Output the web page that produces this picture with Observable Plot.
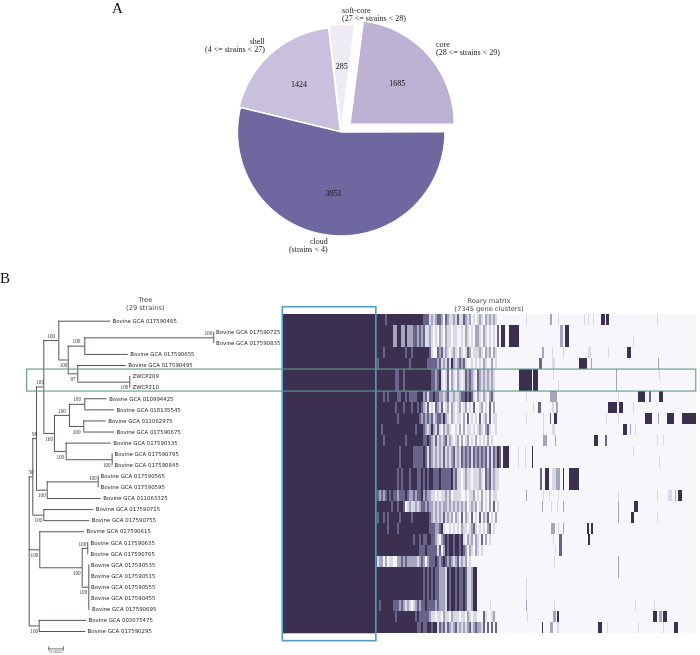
<!DOCTYPE html>
<html><head><meta charset="utf-8">
<script src="https://cdn.jsdelivr.net/npm/d3@7"></script>
<script src="https://cdn.jsdelivr.net/npm/@observablehq/plot@0.6"></script>
<style>
html,body{margin:0;padding:0;background:#fff;width:700px;height:655px;overflow:hidden}
#page{position:relative;width:700px;height:655px;filter:blur(0.35px)}
#page svg{position:absolute;left:0;top:0;background:transparent;overflow:visible}
.letter{position:absolute;font:15px/17px "Liberation Serif",serif;color:#111}
.title{position:absolute;font:6.7px/8px "DejaVu Sans",sans-serif;color:#4a4a4a;text-align:center;transform:translateX(-50%);white-space:nowrap}
</style></head><body><div id="page"></div>
<script>
// ---------- Panel A: pan-genome pie ----------
const pieNames = ["core\n(28 <= strains < 29)","soft-core\n(27 <= strains < 28)","shell\n(4 <= strains < 27)","cloud\n(strains < 4)"];
const pieValues = [1685,285,1424,3951];
const pieExplode = [0.12,0.04,0.015,0];
const pieColors = ["#bdb2d3","#efebf5","#c9c0dd","#6f68a0"];

// ---------- Panel B: tree ----------
const leafNames = ["Bovine GCA 017590465","Bovine GCA 017590725","Bovine GCA 017590835","Bovine GCA 017590655","Bovine GCA 017590495","ZWCP209","ZWCP210","Bovine GCA 010994425","Bovine GCA 018135545","Bovine GCA 011062975","Bovine GCA 017590675","Bovine GCA 017590335","Bovine GCA 017590795","Bovine GCA 017590845","Bovine GCA 017590565","Bovine GCA 017590595","Bovine GCA 011063325","Bovine GCA 017590715","Bovine GCA 017590755","Bovine GCA 017590615","Bovine GCA 017590635","Bovine GCA 017590765","Bovine GCA 017590535","Bovine GCA 017590515","Bovine GCA 017590555","Bovine GCA 017590455","Bovine GCA 017590695","Bovine GCA 003075475","Bovine GCA 017590295"];
const leafDepth = [.01106,.02514,.02514,.01347,.0132,.01378,.01378,.01061,.0116,.01048,.0116,.01116,.01133,.01133,.00943,.00943,.0098,.00879,.00824,.00752,.00807,.00807,.00814,.00814,.00814,.00814,.00827,.0078,.00766];
const leafParent = [33,36,36,35,37,38,38,41,41,42,42,43,44,44,46,46,45,47,47,48,50,50,51,51,51,51,51,52,52];
// internal nodes are numbered from 29
const nodeParent = [-1,29,30,31,32,33,34,35,34,37,32,39,40,40,39,43,31,45,30,29,48,49,49,29];
const nodeDepth = [0,.00049,.00099,.00199,.00403,.00531,.00756,.02511,.00661,.01369,.00344,.00548,.00756,.00743,.00503,.01129,.00245,.00939,.00199,.00144,.00721,.00797,.00811,.00136];
const nodeBootstrap = [null,50,99,100,100,100,100,100,97,100,100,100,100,100,100,100,100,100,100,100,100,100,100,100];
const bootAbove = [30,31,32,33,35,36,40,41,46,50];
const bootAtNode = [36,38,44,46,49,50,51];
const scaleBarLength = 0.002;

// ---------- Panel B: Roary matrix ----------
const totalClusters = 7345, coreClusters = 1685, matrixColumns = 414;
// shade per 2-column bin just right of the core block (0 = absent ... 4 = present)
const accessoryBins = [
"4444344444 4444444444 4443331212 3320321121 3113212010 1210212121 0000",
"4444444422 4422422233 2323112101 0210211011 0010210102 2102101010 3044",
"4444444422 4422422233 2323112101 0210211011 0010210102 2102101010 3044",
"4443444444 4444344344 4444443100 3231210121 0210132011 1210212021 0000",
"3444444444 4444443444 4444433333 2312131421 2323100101 0102100201 0000",
"4444444443 3443444444 4444444332 3410130210 2101323210 3212121210 0000",
"4444444443 3443444444 4444444332 3410130210 2101323210 3212121210 0000",
"4443434444 3344343333 4442313343 3221231121 1233434310 2102102310 0000",
"4444444443 4443444344 3432130103 2130120210 1201201030 0120103020 0000",
"4444444444 3444444444 4323232312 3324210210 1102030101 0301203011 0000",
"4434444444 4444444443 4443212421 3102121001 0202011010 1210231001 0000",
"4443444444 4444344444 4443343213 1212312101 2020120102 0101020100 0000",
"4444444444 4344444433 3334313212 1213121231 2132323132 3232313132 4304",
"4444444444 4344444433 3334313212 1213121231 2132323132 3232313132 4304",
"4444444444 3434443444 3343434433 3433333423 1101211011 1210323121 1000",
"4444444444 3434443444 3343434433 3433333423 1101211011 1210323121 1000",
"3232343433 2333432232 3342322110 1011212011 1100101120 1020102011 0000",
"4444444344 3443012112 1233232212 1212212121 2121201212 0120102030 1000",
"3443434444 4344444344 4444443212 1213121202 1030210301 0302130102 0000",
"4444434444 3444444444 4444443332 2341001010 1021101231 0101023010 0000",
"4444444444 4444444434 4343344332 1023434434 4341021202 1030201000 0000",
"4444444444 4444444444 4333433333 1302434434 4343202102 1010000000 0000",
"1220201100 2232322222 1232023334 3234323212 3121201000 0000000000 0000",
"4444444444 4444444444 4443434343 3222143443 4334311244 0000000000 0000",
"4444444444 4444444444 4443434343 3222143443 4334311244 0000000000 0000",
"4444444444 4444444444 4443434343 3222143443 4334311244 0000000000 0000",
"4344444433 3232121012 3233433332 3222143443 4334311244 0000000000 0000",
"4444444443 4444444443 4333332110 1102110211 1011021011 0003100120 0000",
"4444444444 4444444444 3343344344 1323132123 1212123123 2213030303 0000"
];
// isolated stripes: [row, first column, last column, shade]
const sparseStripes = [
[0,244,245,1],[0,268,270,2],[0,276,277,1],[0,302,303,1],[0,306,307,1],[0,311,312,1],[0,319,323,4],[0,324,327,4],[0,375,376,1],
[1,227,237,4],[1,278,281,2],[1,283,287,4],[2,227,237,4],[2,278,281,2],[2,283,287,4],[2,351,352,1],
[3,260,262,2],[3,270,271,1],[3,281,282,1],[3,306,309,1],[3,326,327,1],[3,345,349,4],
[4,257,260,3],[4,270,273,1],[4,297,305,4],[4,309,310,2],[4,376,377,2],
[5,237,245,4],[5,245,250,4],[5,251,256,4],[5,271,272,1],[5,334,335,2],[5,377,378,1],
[6,237,245,4],[6,245,250,4],[6,251,256,4],[6,276,277,1],[6,334,335,2],
[7,244,245,1],[7,268,275,2],[7,336,337,1],[7,356,363,4],[7,367,369,3],[7,377,381,4],
[8,251,252,1],[8,256,259,3],[8,270,272,1],[8,274,276,2],[8,326,335,4],[8,337,341,4],[8,351,352,1],
[9,244,245,1],[9,261,262,1],[9,268,269,3],[9,272,275,4],[9,324,325,1],[9,336,337,1],[9,363,370,4],[9,376,377,2],[9,385,392,4],[9,400,414,4],
[10,261,262,1],[10,270,273,1],[10,341,345,4],[10,348,349,2],[10,353,354,1],
[11,261,265,2],[11,273,274,2],[11,312,316,4],[11,323,325,3],[11,375,376,1],[11,381,382,1],
[12,222,227,4],[12,236,237,1],[12,243,244,1],[12,250,251,4],[12,351,352,1],
[13,222,227,4],[13,236,237,1],[13,243,244,1],[13,250,251,4],[13,377,378,1],
[14,258,260,3],[14,263,267,4],[14,270,274,1],[14,274,278,2],[14,281,282,4],[14,287,297,4],
[15,258,260,3],[15,263,267,4],[15,270,274,1],[15,274,278,2],[15,281,282,4],[15,287,297,4],
[16,244,245,2],[16,261,262,1],[16,267,268,1],[16,276,277,1],[16,336,337,1],[16,375,376,1],[16,386,390,1],[16,393,394,2],[16,396,400,4],
[17,260,261,2],[17,269,270,1],[17,275,276,1],[17,281,282,2],[17,336,337,2],[17,352,356,4],
[18,336,337,2],[18,349,352,4],[18,375,376,1],
[19,269,273,2],[19,276,277,1],[19,281,282,2],[19,305,307,4],[19,309,311,4],
[20,271,272,1],[20,277,280,3],[20,306,308,4],
[21,273,274,1],[21,277,280,3],
[22,272,273,1],[22,336,337,2],
[23,336,337,2],
[24,244,245,1],
[25,244,245,1],
[26,208,209,1],[26,244,245,2],[26,272,273,1],[26,353,354,1],[26,372,373,1],
[27,245,246,1],[27,271,274,2],[27,275,277,4],[27,371,375,4],[27,377,380,2],[27,381,385,4],
[28,260,261,4],[28,268,271,2],[28,275,277,1],[28,316,320,4],[28,325,326,1],[28,356,357,1],[28,381,382,1],[28,392,396,4]
];
const shadeColors = ["#f7f7fb","#d9d9e6","#a5a5bd","#68648a","#3b304f"];

// ---------- pie geometry in data units (radius = 1) ----------
const total = d3.sum(pieValues);
let cum = 0;
const slices = pieValues.map((v,i)=>{
  const a0 = cum/total*2*Math.PI; cum += v; const a1 = cum/total*2*Math.PI;
  const mid = (a0+a1)/2, e = pieExplode[i];
  const cx = e*Math.cos(mid), cy = e*Math.sin(mid);
  const pts = [{x:cx,y:cy}];
  const n = Math.ceil((a1-a0)/0.02);
  for(let k=0;k<=n;k++){const a=a0+(a1-a0)*k/n;pts.push({x:cx+Math.cos(a),y:cy+Math.sin(a)});}
  return {i,mid,cx,cy,pts};
});
const R = 103.5, pcx = 340.7, pcy = 131.7;
const pieText = slices.map(s=>({x:s.cx+0.6*Math.cos(s.mid),y:s.cy+0.6*Math.sin(s.mid),t:String(pieValues[s.i])}));
const pieLab = slices.map(s=>({x:s.cx+1.1*Math.cos(s.mid),y:s.cy+1.1*Math.sin(s.mid),t:pieNames[s.i],right:Math.cos(s.mid)<0}));
const pie = Plot.plot({width:700,height:655,margin:0,
  x:{domain:[-pcx/R,(700-pcx)/R],range:[0,700],axis:null},
  y:{domain:[(pcy-655)/R,pcy/R],range:[655,0],axis:null},
  marks:[
    ...slices.map(s=>Plot.line(s.pts,{x:"x",y:"y",fill:pieColors[s.i],stroke:"#fff",strokeWidth:1,curve:"linear-closed"})),
    Plot.text(pieText,{x:"x",y:"y",text:"t",fontFamily:"Liberation Serif",fontSize:8,fill:"#111"}),
    Plot.text(pieLab.filter(d=>!d.right),{x:"x",y:"y",text:"t",textAnchor:"start",lineHeight:1,fontFamily:"Liberation Serif",fontSize:8,fill:"#222"}),
    Plot.text(pieLab.filter(d=>d.right),{x:"x",y:"y",text:"t",textAnchor:"end",lineHeight:1,fontFamily:"Liberation Serif",fontSize:8,fill:"#222"})
  ]});

// ---------- tree layout ----------
const N = leafNames.length;
const Y = new Map(), X = new Map(), kids = new Map();
leafNames.forEach((_,i)=>{Y.set(i,i);X.set(i,leafDepth[i]);});
nodeDepth.forEach((d,i)=>{X.set(i+N,d);kids.set(i+N,[]);});
leafParent.forEach((p,i)=>kids.get(p).push(i));
nodeParent.forEach((p,i)=>{if(p>=0)kids.get(p).push(i+N);});
for(let id=N+nodeDepth.length-1;id>=N;id--){
  const ys=kids.get(id).map(c=>Y.get(c));
  Y.set(id,(d3.min(ys)+d3.max(ys))/2);
}
const branches=[];
leafParent.forEach((p,i)=>branches.push({y:i,x1:X.get(p),x2:leafDepth[i]}));
nodeParent.forEach((p,i)=>{if(p>=0)branches.push({y:Y.get(i+N),x1:X.get(p),x2:nodeDepth[i]});});
const verticals=[...kids.keys()].map(id=>{const ys=kids.get(id).map(c=>Y.get(c));return {x:X.get(id),y1:d3.min(ys),y2:d3.max(ys)};});
const boots=nodeBootstrap.map((b,i)=>b==null?null:{id:i+N,b:String(b),y:Y.get(i+N),
  mid:(X.get(nodeParent[i]<0?i+N:nodeParent[i])+nodeDepth[i])/2,end:nodeDepth[i],
  above:bootAbove.includes(i+N),atNode:bootAtNode.includes(i+N)}).filter(Boolean);
const leaves=leafNames.map((n,i)=>({n,i,x:leafDepth[i]}));
const barStart=0.00267, barRow=29.57;
const treeStroke="#4a4040";
const bootStyle={text:"b",fontFamily:"Liberation Serif",fontSize:5.2,fill:"#333"};
const tree = Plot.plot({width:700,height:655,margin:0,
  x:{domain:[0,(700-28.7)/7350],range:[28.7,700],axis:null},
  y:{domain:[0,28],range:[320.7,631],axis:null},
  marks:[
    Plot.ruleY(branches,{y:"y",x1:"x1",x2:"x2",stroke:treeStroke,strokeWidth:0.9}),
    Plot.ruleX(verticals,{x:"x",y1:"y1",y2:"y2",stroke:treeStroke,strokeWidth:0.9}),
    Plot.text(leaves,{x:"x",y:"i",text:"n",dx:2,textAnchor:"start",fontFamily:"DejaVu Sans",fontSize:5.4,fill:"#2a2626"}),
    Plot.text(boots.filter(d=>!d.atNode&&d.above),{...bootStyle,x:"mid",y:"y",dy:-4.5}),
    Plot.text(boots.filter(d=>!d.atNode&&!d.above),{...bootStyle,x:"mid",y:"y",dy:5.5}),
    Plot.text(boots.filter(d=>d.atNode&&d.above),{...bootStyle,x:"end",y:"y",dx:-1.5,dy:-4,textAnchor:"end"}),
    Plot.text(boots.filter(d=>d.atNode&&!d.above),{...bootStyle,x:"end",y:"y",dx:-1.5,dy:5.5,textAnchor:"end"}),
    Plot.ruleY([barRow],{x1:barStart,x2:barStart+scaleBarLength,stroke:treeStroke,strokeWidth:0.7}),
    Plot.ruleX([barStart,barStart+scaleBarLength],{y1:barRow-0.2,y2:barRow+0.2,stroke:treeStroke,strokeWidth:0.7}),
    Plot.text(["0.0020"],{x:barStart+scaleBarLength/2,y:barRow+0.3,text:d=>d,fontFamily:"DejaVu Sans",fontSize:3.8,fill:"#555"})
  ]});

// ---------- matrix ----------
const perColumn = totalClusters/matrixColumns;
const cells=[];
accessoryBins.forEach((s,r)=>{
  [...s.replace(/ /g,"")].forEach((c,b)=>{
    if(c!=="0")cells.push({x1:coreClusters+b*2*perColumn,x2:coreClusters+(b+1)*2*perColumn,r,c:+c});
  });
});
sparseStripes.forEach(([r,a,b,c])=>cells.push({x1:a*perColumn,x2:b*perColumn,r,c}));
const matrix = Plot.plot({width:700,height:655,margin:0,
  x:{domain:[0,totalClusters],range:[282,696],axis:null},
  y:{domain:[0,N],range:[314,633.3],axis:null},
  marks:[
    Plot.rect([0],{x1:0,x2:totalClusters,y1:0,y2:N,fill:shadeColors[0]}),
    Plot.rect([0],{x1:0,x2:coreClusters,y1:0,y2:N,fill:shadeColors[4]}),
    Plot.rect(cells,{x1:"x1",x2:"x2",y1:"r",y2:d=>d.r+1,fill:d=>shadeColors[d.c],shapeRendering:"crispEdges"}),
    // blue box: the core clusters; green box: rows of ZWCP209 and ZWCP210
    Plot.rect([0],{x1:5,x2:coreClusters-20,y1:-0.66,y2:N+0.67,fill:"none",stroke:"#4f9fc6",strokeWidth:1.6}),
    Plot.rect([0],{x1:-4530,x2:totalClusters-4,y1:5,y2:7,fill:"none",stroke:"#5f9c86",strokeWidth:1.1})
  ]});

const page=document.getElementById("page");
page.append(pie,tree,matrix);
const add=(cls,txt,l,t)=>{const d=document.createElement("div");d.className=cls;d.style.left=l+"px";d.style.top=t+"px";d.textContent=txt;page.append(d);return d;};
add("letter","A",112,0);
add("letter","B",0,270);
const t1=add("title","",145.3,295.5);t1.innerHTML="Tree<br>(29 strains)";
const t2=add("title","",489,296.5);t2.innerHTML="Roary matrix<br>(7345 gene clusters)";
</script></body></html>
